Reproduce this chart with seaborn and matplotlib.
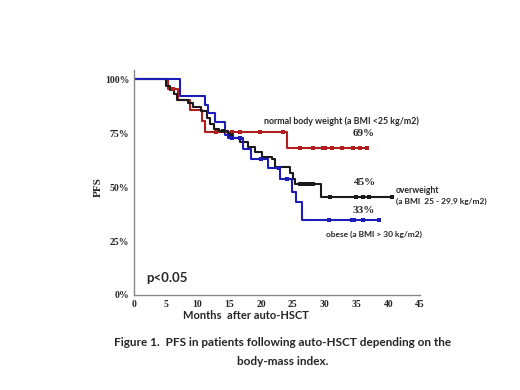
import numpy as np
import pandas as pd
import matplotlib
matplotlib.use("Agg")
import matplotlib.pyplot as plt
import seaborn as sns

# Kaplan-Meier steps (months, PFS)
normal_t = [0, 5.3, 7.0, 8.8, 10.7, 11.2, 24.1, 36.6]
normal_s = [1.0, 0.955, 0.905, 0.856, 0.806, 0.756, 0.682, 0.682]
normal_cens = [6.1, 12.9, 15.4, 16.7, 19.8, 23.4, 26.1, 28.2, 29.7, 30.1,
               31.1, 32.8, 34.5, 35.6, 36.6]

over_t = [0, 5.0, 5.6, 6.3, 6.8, 8.5, 9.3, 10.5, 11.5, 12.0, 12.6, 13.3, 14.8,
          15.6, 16.7, 18.0, 19.0, 20.1, 21.7, 22.2, 24.6, 25.0, 25.4, 29.4, 40.6]
over_s = [1.0, 0.97, 0.95, 0.93, 0.905, 0.89, 0.87, 0.85, 0.82, 0.79, 0.77, 0.76,
          0.74, 0.727, 0.71, 0.687, 0.663, 0.64, 0.628, 0.594, 0.563, 0.535,
          0.512, 0.455, 0.455]
over_cens = [14.0, 15.2, 26.1, 26.6, 27.2, 27.7, 28.2, 30.9, 35.0, 36.0, 37.0, 40.6]

obese_t = [0, 7.2, 11.2, 11.7, 12.8, 14.3, 14.8, 17.2, 18.4, 21.1, 23.0, 24.8,
           25.5, 26.4, 38.6]
obese_s = [1.0, 0.923, 0.88, 0.844, 0.80, 0.74, 0.727, 0.676, 0.63, 0.588, 0.536,
           0.478, 0.43, 0.347, 0.347]
obese_cens = [15.4, 16.7, 20.0, 22.8, 24.0, 30.7, 34.3, 34.6, 36.1, 38.6]

x_ticks = [0, 5, 10, 15, 20, 25, 30, 35, 40, 45]
y_ticks = [0, 0.25, 0.5, 0.75, 1.0]
y_ticklabels = ["0%", "25%", "50%", "75%", "100%"]

RED = "#B01E1E"
BLACK = "#1a1a1a"
BLUE = "#1C1CB8"
SERIF = ["Liberation Serif", "DejaVu Serif"]
SANS = ["Lato", "DejaVu Sans"]


def step_value(times, surv, t):
    """survival value at time t (right-continuous step)"""
    i = np.searchsorted(times, t, side="right") - 1
    return surv[i]


sns.set_style("white")
fig = plt.figure(figsize=(5.2, 3.9), dpi=100)
ax = fig.add_axes([0.2577, 0.2436, 0.55, 0.577])

groups = [(normal_t, normal_s, normal_cens, RED),
          (over_t, over_s, over_cens, BLACK),
          (obese_t, obese_s, obese_cens, BLUE)]

for t, s, cens, col in groups:
    df = pd.DataFrame({"t": t, "s": s})
    sns.lineplot(data=df, x="t", y="s", ax=ax, color=col, linewidth=1.5,
                 drawstyle="steps-post", estimator=None, sort=False)
    cy = [step_value(t, s, c) for c in cens]
    sns.scatterplot(x=cens, y=cy, ax=ax, color=col, s=6, marker="s",
                    linewidth=0, zorder=3)

ax.set_xlim(0, 45)
ax.set_ylim(0, 1.042)
ax.set_xticks(x_ticks)
ax.set_xticklabels([str(v) for v in x_ticks], family=SERIF,
                   fontweight="bold", fontsize=7)
ax.set_yticks(y_ticks)
ax.set_yticklabels(y_ticklabels, family=SERIF, fontweight="bold", fontsize=7)
ax.tick_params(axis="both", length=2, width=0.8, color="#888888", pad=1.5,
               direction="out")
for side in ["top", "right"]:
    ax.spines[side].set_visible(False)
for side in ["left", "bottom"]:
    ax.spines[side].set_color("#888888")
    ax.spines[side].set_linewidth(1.0)

ax.set_xlabel("Months  after auto-HSCT", family=SANS, fontweight="bold",
              fontsize=8)
ax.xaxis.set_label_coords((246 - 134) / 286, -0.068)
ax.set_ylabel("PFS", family=SERIF, fontweight="bold", fontsize=8)
ax.yaxis.set_label_coords(-0.11, 0.48)

# annotations
ax.text(20.45, 0.806, "normal body weight (a BMI <25 kg/m2)", family=SANS,
        fontweight="bold", fontsize=6.4, va="center", ha="left")
ax.text(36.2, 0.75, "69%", family=SERIF, fontweight="bold", fontsize=8,
        ha="center", va="center")
ax.text(36.3, 0.519, "45%", family=SERIF, fontweight="bold", fontsize=8,
        ha="center", va="center")
ax.text(41.2, 0.486, "overweight", family=SANS, fontweight="bold",
        fontsize=6.2, ha="left", va="center")
ax.text(41.2, 0.435, "(a BMI  25 - 29,9 kg/m2)", family=SANS,
        fontweight="bold", fontsize=6.0, ha="left", va="center")
ax.text(36.2, 0.389, "33%", family=SERIF, fontweight="bold", fontsize=8,
        ha="center", va="center")
ax.text(30.2, 0.282, "obese (a BMI > 30 kg/m2)", family=SANS,
        fontweight="bold", fontsize=6.0, ha="left", va="center")
ax.text(1.9, 0.079, "p<0.05", family=SANS, fontweight="bold", fontsize=9.5,
        ha="left", va="center")

fig.text(0.544, 0.123,
         "Figure 1.  PFS in patients following auto-HSCT depending on the",
         family=SANS, fontweight="bold", fontsize=8.5, ha="center",
         va="center")
fig.text(0.544, 0.074, "body-mass index.", family=SANS, fontweight="bold",
         fontsize=8.5, ha="center", va="center")

fig.savefig("out.png", dpi=100)
